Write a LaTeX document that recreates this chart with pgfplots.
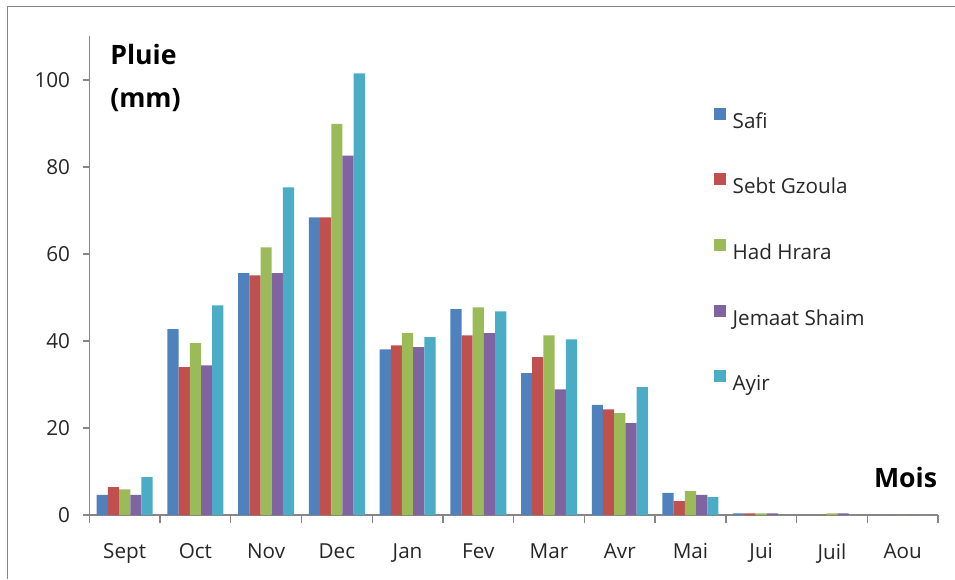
\documentclass[border=0pt]{standalone}
\usepackage{fontspec}
\setmainfont{Open Sans}
\usepackage{pgfplots}
\pgfplotsset{compat=1.18}
\definecolor{cSafi}{HTML}{4F81BD}
\definecolor{cSebt}{HTML}{C0504D}
\definecolor{cHad}{HTML}{9BBB59}
\definecolor{cJem}{HTML}{8064A2}
\definecolor{cAyir}{HTML}{4BACC6}
\definecolor{axgray}{HTML}{868686}
\begin{document}
\begin{tikzpicture}[x=1pt,y=1pt]
\path[use as bounding box] (0,0) rectangle (716.25,434.25);
\draw[color=axgray, line width=1.1pt] (5.6,0) -- (5.6,429.4) -- (716.25,429.4);
\begin{axis}[
  at={(67pt,48pt)}, anchor=south west,
  scale only axis, width=636.5pt, height=358.9pt,
  ymin=0, ymax=110, xmin=-0.5, xmax=11.5,
  ybar=0pt, bar width=8.4pt,
  axis x line*=bottom, axis y line*=left,
  axis line style={draw=axgray, line width=1pt},
  tick align=outside,
  ytick={0,20,40,60,80,100},
  xtick={0,...,11},
  xticklabels={Sept,Oct,Nov,Dec,Jan,Fev,Mar,Avr,Mai,Jui,Juil,Aou},
  minor xtick={-0.5,0.5,...,11.5},
  major tick length=5pt, minor tick length=6pt,
  major x tick style={draw=none},
  tick style={draw=axgray, line width=1pt},
  /pgf/number format/assume math mode=true,
  ticklabel style={font=\fontsize{15.5}{18}\selectfont, text=black!85},
  yticklabel style={xshift=-6pt},
  xticklabel style={yshift=-13pt},
  legend style={at={(0.731,0.8575)}, anchor=north west, draw=none, fill=none,
    font=\fontsize{15.5}{18}\selectfont, text=black!85, row sep=30.75pt,
    nodes={inner sep=0pt, text height=11pt, text depth=3pt}},
  legend cell align=left,
  legend image code/.code={\fill (0pt,2.5pt) rectangle (9pt,11.5pt);},
  /tikz/every odd column/.style={column sep=5pt},
  clip=false,
]
\addplot[fill=cSafi, draw=none] coordinates {(0,4.6) (1,42.7) (2,55.6) (3,68.4) (4,38.1) (5,47.3) (6,32.6) (7,25.3) (8,5.1) (9,0.4) (10,0) (11,0)};
\addplot[fill=cSebt, draw=none] coordinates {(0,6.4) (1,34.0) (2,55.1) (3,68.4) (4,39.0) (5,41.3) (6,36.3) (7,24.3) (8,3.2) (9,0.4) (10,0) (11,0)};
\addplot[fill=cHad, draw=none] coordinates {(0,5.9) (1,39.5) (2,61.5) (3,89.9) (4,41.8) (5,47.7) (6,41.3) (7,23.4) (8,5.5) (9,0.4) (10,0.4) (11,0)};
\addplot[fill=cJem, draw=none] coordinates {(0,4.6) (1,34.4) (2,55.6) (3,82.6) (4,38.6) (5,41.8) (6,28.9) (7,21.1) (8,4.6) (9,0.4) (10,0.4) (11,0)};
\addplot[fill=cAyir, draw=none] coordinates {(0,8.7) (1,48.2) (2,75.3) (3,101.5) (4,40.9) (5,46.8) (6,40.4) (7,29.4) (8,4.1) (9,0) (10,0) (11,0)};
\legend{Safi,Sebt Gzoula,Had Hrara,Jemaat Shaim,Ayir}
\end{axis}
\node[anchor=west, align=left, font=\bfseries\fontsize{20}{32}\selectfont, inner sep=0pt] at (82.5,376) {Pluie\\(mm)};
\node[anchor=east, font=\bfseries\fontsize{20}{24}\selectfont, inner sep=0pt] at (703,76) {Mois};
\end{tikzpicture}
\end{document}
